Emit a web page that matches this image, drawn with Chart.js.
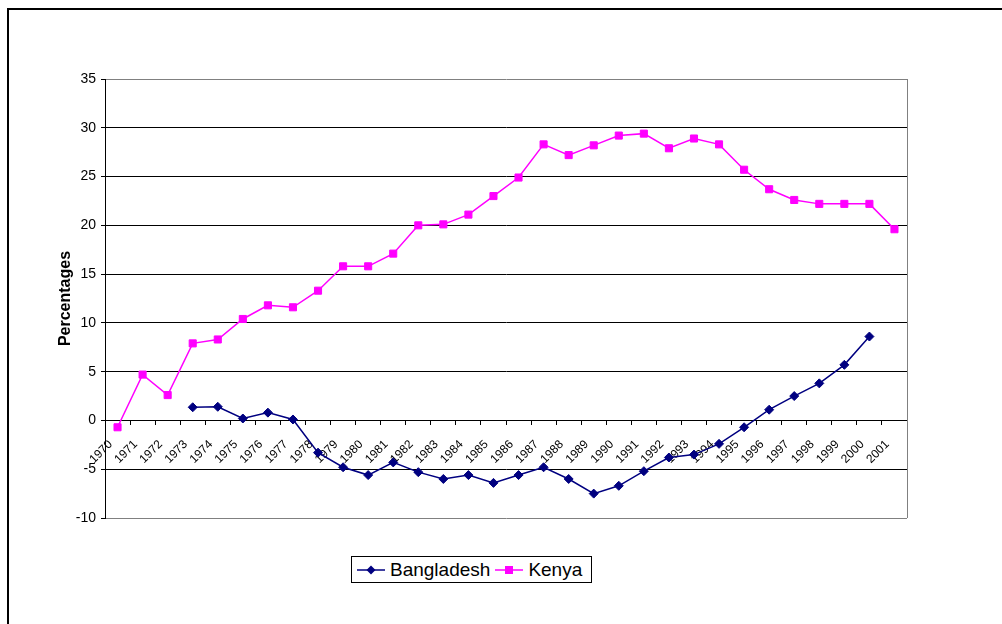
<!DOCTYPE html>
<html>
<head>
<meta charset="utf-8">
<script src="https://cdn.jsdelivr.net/npm/chart.js@4.4.1/dist/chart.umd.min.js"></script>
<style>
  body { margin: 0; background: #fff; }
  #wrap { position: relative; width: 1002px; height: 624px; overflow: hidden; font-family: "Liberation Sans", Arial, sans-serif; }
  #frame { position: absolute; left: 7px; top: 8px; width: 1100px; height: 700px; border: 2px solid #000; }
  #chartBox { position: absolute; left: 0; top: 0; width: 1002px; height: 624px; }
  #legend { position: absolute; left: 351px; top: 556px; width: 239px; height: 25px; border: 1px solid #000; background: #fff;
            display: flex; align-items: center; font-size: 19px; color: #000; white-space: nowrap; }
  .item { display: flex; align-items: center; margin-left: 5px; }
  .item svg { margin-right: 5px; }
</style>
</head>
<body>
<div id="wrap">
  <div id="frame"></div>
  <div id="chartBox"><canvas id="myChart"></canvas></div>
  <div id="legend"></div>
</div>
<script>
const years = ['1970', '1971', '1972', '1973', '1974', '1975', '1976', '1977', '1978', '1979',
               '1980', '1981', '1982', '1983', '1984', '1985', '1986', '1987', '1988', '1989',
               '1990', '1991', '1992', '1993', '1994', '1995', '1996', '1997', '1998', '1999',
               '2000', '2001'];

// no data before 1973 or for 2001
const bangladesh = [null, null, null, 1.35, 1.4, 0.2, 0.8, 0.1, -3.3, -4.8,
                    -5.6, -4.3, -5.3, -6.0, -5.6, -6.4, -5.6, -4.8, -6.0, -7.5,
                    -6.7, -5.2, -3.8, -3.5, -2.4, -0.7, 1.1, 2.5, 3.8, 5.7,
                    8.6, null];

const kenya = [-0.7, 4.7, 2.6, 7.9, 8.3, 10.4, 11.8, 11.6, 13.3, 15.8,
               15.8, 17.1, 20.0, 20.1, 21.1, 23.0, 24.9, 28.3, 27.2, 28.2,
               29.2, 29.4, 27.9, 28.9, 28.3, 25.7, 23.7, 22.6, 22.2, 22.2,
               22.2, 19.6];

const seriesNames = ['Bangladesh', 'Kenya'];
const seriesColors = ['#000080', '#FF00FF'];
const seriesMarkers = ['rectRot', 'rect'];

const yMin = -10;
const yMax = 35;
const yStep = 5;

// grey frame round the plot area (right side), like the old spreadsheet charts
const plotFrame = {
    id: 'plotFrame',
    beforeDatasetsDraw(chart) {
        const { ctx, chartArea } = chart;
        ctx.save();
        ctx.strokeStyle = '#808080';
        ctx.lineWidth = 1;
        ctx.beginPath();
        ctx.moveTo(Math.round(chartArea.right) + 0.5, chartArea.top);
        ctx.lineTo(Math.round(chartArea.right) + 0.5, chartArea.bottom);
        ctx.stroke();
        ctx.restore();
    }
};

const ctx = document.getElementById('myChart').getContext('2d');
const myChart = new Chart(ctx, {
    type: 'line',
    data: {
        labels: years,
        datasets: [{
            label: seriesNames[0],
            data: bangladesh,
            borderColor: seriesColors[0],
            backgroundColor: seriesColors[0],
            borderWidth: 1.5,
            pointStyle: seriesMarkers[0],
            pointRadius: 4.5,
            pointBorderWidth: 1,
            spanGaps: false,
            tension: 0
        }, {
            label: seriesNames[1],
            data: kenya,
            borderColor: seriesColors[1],
            backgroundColor: seriesColors[1],
            borderWidth: 1.5,
            pointStyle: seriesMarkers[1],
            pointRadius: 5,
            pointBorderWidth: 1,
            tension: 0
        }]
    },
    options: {
        responsive: true,
        maintainAspectRatio: false,
        animation: false,
        layout: { padding: { left: 0, right: 95, top: 79, bottom: 106 } },
        plugins: {
            legend: { display: false },
            tooltip: { enabled: false }
        },
        scales: {
            x: {
                type: 'category',
                position: { y: 0 },
                offset: true,
                grid: { offset: true, drawOnChartArea: false, drawTicks: true, tickLength: 4, color: '#000' },
                border: { display: true, color: '#000', width: 1 },
                ticks: {
                    autoSkip: false, minRotation: 45, maxRotation: 45,
                    font: { family: '"Liberation Sans", Arial, sans-serif', size: 12 },
                    color: '#000', padding: 13, labelOffset: -7
                }
            },
            y: {
                min: yMin,
                max: yMax,
                afterFit: (scale) => { scale.width = 105; },
                title: {
                    display: true, text: 'Percentages', color: '#000',
                    font: { family: '"Liberation Sans", Arial, sans-serif', size: 16, weight: 'bold' },
                    padding: { top: 56, bottom: 0 }
                },
                grid: {
                    color: (c) => (c.tick && (c.tick.value === yMax || c.tick.value === yMin)) ? '#808080' : '#000',
                    tickColor: '#000', tickLength: 4, lineWidth: 1
                },
                border: { display: true, color: '#000', width: 1 },
                ticks: {
                    stepSize: yStep, color: '#000', padding: 5,
                    font: { family: '"Liberation Sans", Arial, sans-serif', size: 14 }
                }
            }
        }
    },
    plugins: [plotFrame]
});

// legend drawn as html, icons are a short line with the series marker
const legend = document.getElementById('legend');
seriesNames.forEach((name, i) => {
    const col = seriesColors[i];
    const mark = seriesMarkers[i] === 'rect'
        ? `<rect x="10" y="2" width="8" height="8" fill="${col}"/>`
        : `<polygon points="14,1.5 18.5,6 14,10.5 9.5,6" fill="${col}"/>`;
    const div = document.createElement('div');
    div.className = 'item';
    div.innerHTML = `<svg width="28" height="12"><line x1="0" y1="6" x2="28" y2="6" stroke="${col}" stroke-width="1.5"/>${mark}</svg><span>${name}</span>`;
    legend.appendChild(div);
});
</script>
</body>
</html>
